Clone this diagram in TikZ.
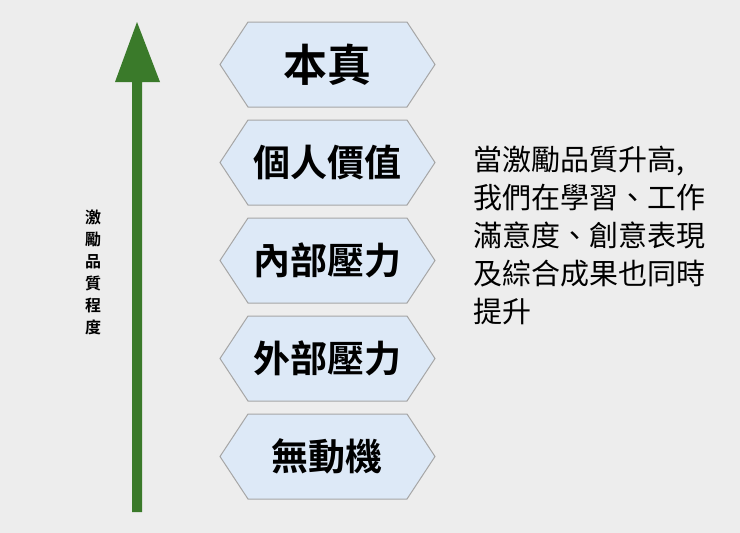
\documentclass[tikz,border=0pt]{standalone}
\usepackage{fontspec}
\newfontfamily\cjk{Noto Sans CJK TC}
\newfontfamily\cjkb{Noto Sans CJK TC Bold}
\definecolor{hexfill}{HTML}{DDE9F7}
\definecolor{arrgreen}{HTML}{3A7A2A}
\begin{document}
\begin{tikzpicture}[x=1pt,y=-1pt,
  hexbox/.style={draw=gray!70,fill=hexfill,line width=1pt},
  hextext/.style={font=\cjkb\fontsize{37}{37}\selectfont,text=black},
  sidetext/.style={font=\cjk\fontsize{29}{38}\selectfont,align=left,anchor=north west,text=black}]
\useasboundingbox[fill=black!7] (0,0) rectangle (740,533);
\newcommand\hexa[3]{%
  \filldraw[hexbox] (220,#2) -- (248,#2-42.5) -- (407,#2-42.5) -- (435,#2) -- (407,#2+42.5) -- (248,#2+42.5) -- cycle;
  \node[hextext] (#1) at (327,#2) {#3};}
\hexa{h1}{64.5}{\fontsize{44}{44}\selectfont 本真}
\hexa{h2}{162.5}{個人價值}
\hexa{h3}{260.5}{內部壓力}
\hexa{h4}{358.5}{外部壓力}
\hexa{h5}{456.5}{無動機}
\coordinate (abot) at (137,512);
\coordinate (atop) at (137,22);
\fill[arrgreen] (132,512) -- (132,82) -- (115,82) -- (137,22) -- (160,82) -- (142,82) -- (142,512) -- cycle;
\node[font=\cjkb\fontsize{16}{22}\selectfont,align=center] (vlabel) at (93,272) {激\\勵\\品\\質\\程\\度};
\node[sidetext] (side) at (470,143) {當激勵品質升高,\\我們在學習、工作\\滿意度、創意表現\\及綜合成果也同時\\提升};
\end{tikzpicture}
\end{document}
